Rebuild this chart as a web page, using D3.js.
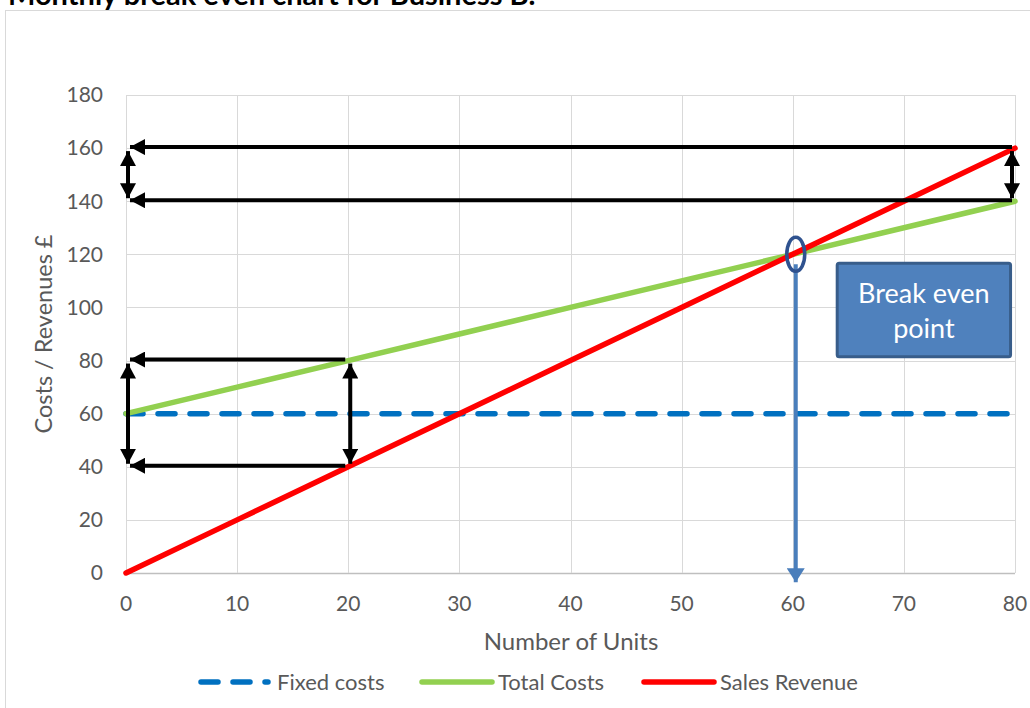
<!DOCTYPE html>
<html><head><meta charset="utf-8">
<script src="https://cdn.jsdelivr.net/npm/d3@7"></script>
<style>
html,body{margin:0;padding:0;background:#fff;}
svg{display:block;font-family:Lato,"Open Sans",sans-serif;}
</style></head>
<body>
<svg id="chart" width="1030" height="708"></svg>
<script>
// ---- data ----
const units = [0, 10, 20, 30, 40, 50, 60, 70, 80];
const fixedCosts = [60, 60, 60, 60, 60, 60, 60, 60, 60];
const totalCosts = [60, 70, 80, 90, 100, 110, 120, 130, 140];
const salesRevenue = [0, 20, 40, 60, 80, 100, 120, 140, 160];
const yTicks = [0, 20, 40, 60, 80, 100, 120, 140, 160, 180];
const xTicks = [0, 10, 20, 30, 40, 50, 60, 70, 80];
const seriesNames = ["Fixed costs", "Total Costs", "Sales Revenue"];
const breakEven = {units: 60, value: 120};
const horizArrows = [{y: 160, from: 80, to: 0}, {y: 140, from: 80, to: 0}, {y: 80, from: 20, to: 0}, {y: 40, from: 20, to: 0}];
const doubleArrows = [{x: 0, top: 160, bottom: 140}, {x: 80, top: 160, bottom: 140}, {x: 0, top: 80, bottom: 40}, {x: 20, top: 80, bottom: 40}];
const titleText = "Monthly break even chart for Business B.";
const calloutLines = ["Break even", "point"];

// ---- layout ----
const svg = d3.select("#chart");
const pLeft = 126, pRight = 1015, pTop = 95, pBottom = 573;
const x = d3.scaleLinear().domain([0, 80]).range([pLeft, pRight]);
const y = d3.scaleLinear().domain([0, 180]).range([pBottom, pTop]);
const textCol = "#595959";

// title (clipped at top, as in the reference)
svg.append("text").attr("x", 8).attr("y", 5)
  .attr("font-size", 29).attr("font-weight", "bold").attr("fill", "#000")
  .text(titleText);

// chart frame
svg.append("rect").attr("x", 5.5).attr("y", 10.5).attr("width", 1040).attr("height", 720)
  .attr("fill", "#fff").attr("stroke", "#d9d9d9").attr("stroke-width", 1);

const defs = svg.append("defs");
function marker(id, color, w, h) {
  defs.append("marker").attr("id", id).attr("viewBox", `0 0 ${w} ${h}`)
    .attr("refX", w).attr("refY", h / 2).attr("markerWidth", w).attr("markerHeight", h)
    .attr("markerUnits", "userSpaceOnUse").attr("orient", "auto-start-reverse")
    .append("path").attr("d", `M0,0L${w},${h/2}L0,${h}Z`).attr("fill", color);
}
marker("blk", "#000", 15, 16);
marker("blu", "#4A7EBB", 14, 18);

// gridlines
const g = svg.append("g");
g.selectAll("line.h").data(yTicks).join("line")
  .attr("x1", pLeft).attr("x2", pRight)
  .attr("y1", d => Math.round(y(d)) + 0.5).attr("y2", d => Math.round(y(d)) + 0.5)
  .attr("stroke", d => d === 0 ? "#bfbfbf" : "#d9d9d9").attr("stroke-width", d => d === 0 ? 1.5 : 1);
g.selectAll("line.v").data(xTicks).join("line")
  .attr("y1", pTop).attr("y2", pBottom)
  .attr("x1", d => Math.round(x(d)) + 0.5).attr("x2", d => Math.round(x(d)) + 0.5)
  .attr("stroke", "#d9d9d9").attr("stroke-width", 1);

// tick labels
svg.append("g").selectAll("text").data(yTicks).join("text")
  .attr("x", 103).attr("y", d => y(d)).attr("dy", "0.35em")
  .attr("text-anchor", "end").attr("font-size", 21).attr("fill", textCol).text(d => d);
svg.append("g").selectAll("text").data(xTicks).join("text")
  .attr("x", d => x(d)).attr("y", 611)
  .attr("text-anchor", "middle").attr("font-size", 21).attr("fill", textCol).text(d => d);

// axis titles
svg.append("text").attr("x", 571).attr("y", 650).attr("text-anchor", "middle")
  .attr("font-size", 24).attr("fill", textCol).text("Number of Units");
svg.append("text").attr("transform", "translate(52,334) rotate(-90)").attr("text-anchor", "middle")
  .attr("font-size", 23.5).attr("fill", textCol).text("Costs / Revenues £");

// series
const series = [
  {name: seriesNames[0], vals: fixedCosts, color: "#0070C0", dash: "17,15"},
  {name: seriesNames[1], vals: totalCosts, color: "#92D050", dash: null},
  {name: seriesNames[2], vals: salesRevenue, color: "#FF0000", dash: null}
];
const line = d3.line().x((d, i) => x(units[i])).y(d => y(d));
series.forEach(s => {
  svg.append("path").attr("d", line(s.vals)).attr("fill", "none")
    .attr("stroke", s.color).attr("stroke-width", 5.5)
    .attr("stroke-linecap", "round").attr("stroke-dasharray", s.dash);
});

// black arrows
const ann = svg.append("g");
horizArrows.forEach(a => {
  ann.append("line").attr("x1", x(a.from) - 3).attr("x2", x(a.to) + 4)
    .attr("y1", y(a.y) - 1).attr("y2", y(a.y) - 1)
    .attr("stroke", "#000").attr("stroke-width", 4).attr("marker-end", "url(#blk)");
});
doubleArrows.forEach(a => {
  const px = x(a.x) + (a.x === 80 ? -3 : 2);
  ann.append("line").attr("x1", px).attr("x2", px)
    .attr("y1", y(a.top) + 3).attr("y2", y(a.bottom) - 3)
    .attr("stroke", "#000").attr("stroke-width", 4)
    .attr("marker-start", "url(#blk)").attr("marker-end", "url(#blk)");
});

// break-even marker
const bx = x(breakEven.units), by = y(breakEven.value);
ann.append("line").attr("x1", bx + 3).attr("x2", bx + 3).attr("y1", by + 10).attr("y2", y(-3.5))
  .attr("stroke", "#4A7EBB").attr("stroke-width", 4).attr("marker-end", "url(#blu)");
ann.append("ellipse").attr("cx", bx + 3).attr("cy", by).attr("rx", 9).attr("ry", 17)
  .attr("fill", "none").attr("stroke", "#2F528F").attr("stroke-width", 3.5);

// callout box
const bxL = x(64), bxR = x(79.6), byT = y(116.6), byB = y(81.4);
ann.append("rect").attr("x", bxL).attr("y", byT).attr("width", bxR - bxL).attr("height", byB - byT)
  .attr("rx", 2).attr("fill", "#4F81BD").attr("stroke", "#385D8A").attr("stroke-width", 3);
ann.append("g").selectAll("text").data(calloutLines).join("text")
  .attr("x", (bxL + bxR) / 2).attr("y", (d, i) => byT + 40 + i * 35)
  .attr("text-anchor", "middle").attr("font-size", 27).attr("fill", "#fff").text(d => d);

// legend
const legendY = 682;
const legend = [
  {s: series[0], x0: 201, x1: 268, tx: 277},
  {s: series[1], x0: 422, x1: 492, tx: 498},
  {s: series[2], x0: 644, x1: 714, tx: 720}
];
legend.forEach(l => {
  svg.append("line").attr("x1", l.x0).attr("x2", l.x1).attr("y1", legendY).attr("y2", legendY)
    .attr("stroke", l.s.color).attr("stroke-width", 5.5).attr("stroke-linecap", "round")
    .attr("stroke-dasharray", l.s.dash);
  svg.append("text").attr("x", l.tx).attr("y", legendY).attr("dy", "0.35em")
    .attr("font-size", 22).attr("fill", textCol).text(l.s.name);
});
</script>
</body></html>
